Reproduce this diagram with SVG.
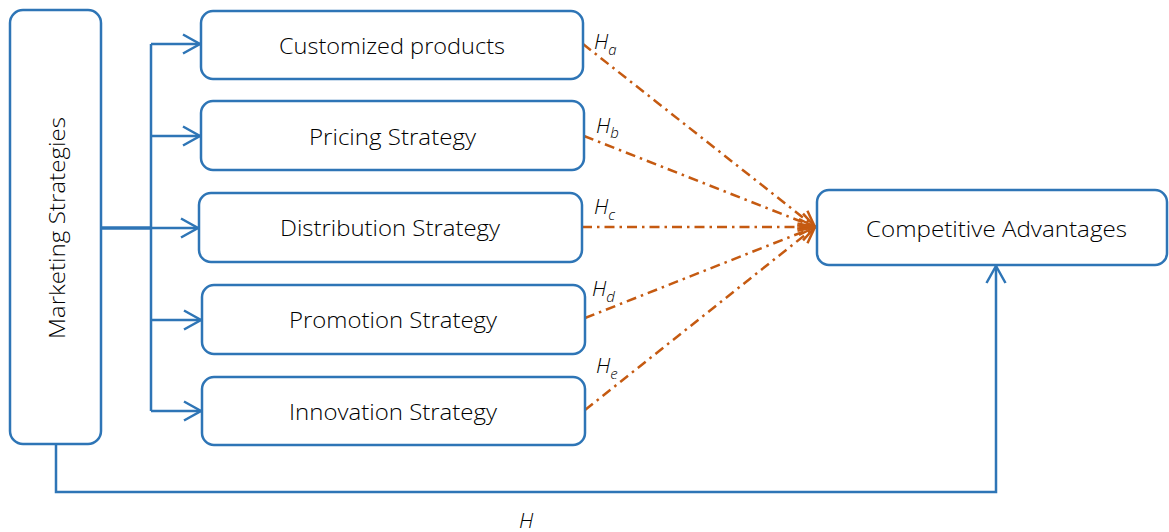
<svg xmlns="http://www.w3.org/2000/svg" width="1169" height="532" viewBox="0 0 1169 532">
  <style>
    .box { fill: #ffffff; stroke: #2E75B6; stroke-width: 2.5; }
    .label { font-family: "Open Sans", "Liberation Sans", sans-serif; font-weight: 300; font-size: 22px; fill: #000000; }
    .link { fill: none; stroke: #2E75B6; stroke-width: 2.5; }
    .hyp { fill: none; stroke: #C55A11; stroke-width: 2.5; stroke-dasharray: 10 5 2.5 5; }
    .hlab { font-family: "Open Sans", "Liberation Sans", sans-serif; font-style: italic; font-weight: 300; font-size: 21px; fill: #000000; }
    .sub { font-size: 15px; }
  </style>
  <defs>
    <marker id="arrowBlue" markerUnits="userSpaceOnUse" viewBox="-20 -12 24 24" markerWidth="24" markerHeight="24" refX="0" refY="0" orient="auto" overflow="visible">
      <path d="M-17,-9.5 L0,0 L-17,9.5" fill="none" stroke="#2E75B6" stroke-width="2.5" stroke-dasharray="none"/>
    </marker>
    <marker id="arrowOrange" markerUnits="userSpaceOnUse" viewBox="-20 -12 24 24" markerWidth="24" markerHeight="24" refX="0" refY="0" orient="auto" overflow="visible">
      <path d="M-16,-8 L0,0 L-16,8" fill="none" stroke="#C55A11" stroke-width="2.5" stroke-dasharray="none"/>
    </marker>
  </defs>

  <!-- connectors -->
  <g id="connectors">
    <!-- distribution trunk -->
    <line class="link" x1="151" y1="44" x2="151" y2="411"/>
    <line class="link" x1="101" y1="228" x2="151" y2="228" style="stroke-width:3.5"/>
    <line class="link" x1="151" y1="44" x2="200" y2="44" marker-end="url(#arrowBlue)"/>
    <line class="link" x1="151" y1="136" x2="200" y2="136" marker-end="url(#arrowBlue)"/>
    <line class="link" x1="151" y1="228" x2="198" y2="228" marker-end="url(#arrowBlue)"/>
    <line class="link" x1="151" y1="320" x2="201" y2="320" marker-end="url(#arrowBlue)"/>
    <line class="link" x1="151" y1="411" x2="201" y2="411" marker-end="url(#arrowBlue)"/>
    <!-- direct path H -->
    <path class="link" d="M56,444 V492 H996 V266" marker-end="url(#arrowBlue)"/>
    <!-- hypotheses Ha..He -->
    <line class="hyp" x1="583" y1="44" x2="815" y2="227" marker-end="url(#arrowOrange)"/>
    <line class="hyp" x1="584" y1="136" x2="815" y2="227" marker-end="url(#arrowOrange)"/>
    <line class="hyp" x1="582" y1="227" x2="815" y2="227" marker-end="url(#arrowOrange)"/>
    <line class="hyp" x1="585" y1="318" x2="815" y2="227" marker-end="url(#arrowOrange)"/>
    <line class="hyp" x1="585" y1="410" x2="815" y2="227" marker-end="url(#arrowOrange)"/>
    <!-- labels -->
    <text class="hlab" x="594" y="49">H<tspan class="sub" dy="6">a</tspan></text>
    <text class="hlab" x="596" y="133">H<tspan class="sub" dy="5">b</tspan></text>
    <text class="hlab" x="594" y="214">H<tspan class="sub" dy="6">c</tspan></text>
    <text class="hlab" x="592" y="296">H<tspan class="sub" dy="6">d</tspan></text>
    <text class="hlab" x="596" y="373">H<tspan class="sub" dy="6">e</tspan></text>
    <text class="hlab" x="519" y="528">H</text>
  </g>

  <g id="marketing-strategies">
    <rect class="box" x="10" y="10" width="91" height="434" rx="13"/>
    <text class="label" transform="translate(65,339) rotate(-90)" x="0" y="0" textLength="222" lengthAdjust="spacingAndGlyphs">Marketing Strategies</text>
  </g>

  <g id="customized-products">
    <rect class="box" x="201" y="11" width="382" height="68" rx="12"/>
    <text class="label" x="279" y="53.5" textLength="226" lengthAdjust="spacingAndGlyphs">Customized products</text>
  </g>

  <g id="pricing-strategy">
    <rect class="box" x="201" y="101" width="383" height="69" rx="12"/>
    <text class="label" x="309" y="144.5" textLength="167" lengthAdjust="spacingAndGlyphs">Pricing Strategy</text>
  </g>

  <g id="distribution-strategy">
    <rect class="box" x="199" y="193" width="383" height="69" rx="12"/>
    <text class="label" x="280" y="236" textLength="220" lengthAdjust="spacingAndGlyphs">Distribution Strategy</text>
  </g>

  <g id="promotion-strategy">
    <rect class="box" x="202" y="285" width="383" height="69" rx="12"/>
    <text class="label" x="289" y="328" textLength="208" lengthAdjust="spacingAndGlyphs">Promotion Strategy</text>
  </g>

  <g id="innovation-strategy">
    <rect class="box" x="202" y="377" width="383" height="68" rx="12"/>
    <text class="label" x="289" y="419.5" textLength="208" lengthAdjust="spacingAndGlyphs">Innovation Strategy</text>
  </g>

  <g id="competitive-advantages">
    <rect class="box" x="817" y="190" width="350" height="75" rx="12"/>
    <text class="label" x="866" y="237" textLength="261" lengthAdjust="spacingAndGlyphs">Competitive Advantages</text>
  </g>
</svg>
